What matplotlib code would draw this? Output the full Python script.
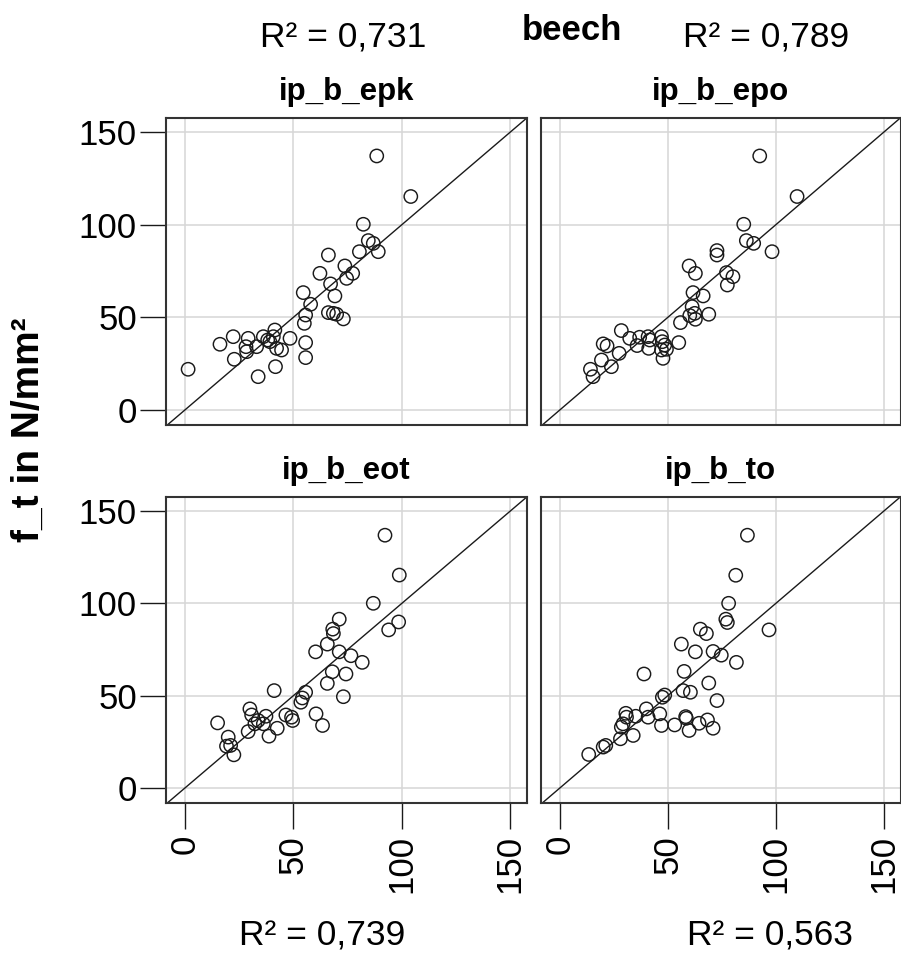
import matplotlib
matplotlib.use('Agg')
import matplotlib.pyplot as plt

plt.rcParams['font.family'] = ['Liberation Sans', 'DejaVu Sans']

# ==========================================
# Datos
# ==========================================
epk_x = [88.5, 104.2, 82.3, 84.6, 86.9, 89.2, 80.5, 66.2, 73.8, 77.4, 74.6, 62.3, 67.2, 69.2,
         54.6, 58.0, 55.7, 55.1, 66.2, 68.5, 70.0, 73.1, 55.7, 55.7, 48.5, 41.5, 40.8, 39.2,
         36.2, 42.3, 44.6, 33.1, 29.2, 22.3, 16.2, 28.5, 22.8, 41.8, 33.8, 1.5, 38.2, 28.2]
epk_y = [137.2, 115.3, 100.3, 91.5, 90.0, 85.5, 85.5, 83.7, 77.8, 73.8, 71.1, 73.8, 68.1, 61.6,
         63.4, 57.1, 51.3, 46.8, 52.6, 52.2, 51.7, 49.2, 36.4, 28.3, 38.7, 43.2, 39.6, 36.9,
         39.6, 33.3, 32.4, 34.2, 38.7, 39.6, 35.5, 31.5, 27.4, 23.4, 18.0, 22.0, 37.8, 34.2]

epo_x = [92.6, 109.9, 85.2, 86.4, 89.8, 98.3, 72.8, 72.8, 59.9, 62.8, 77.2, 80.2, 77.6, 61.7,
         66.4, 61.3, 62.5, 60.2, 62.8, 69.0, 55.9, 28.5, 32.4, 37.0, 40.9, 41.7, 47.1, 47.5,
         49.4, 47.8, 55.1, 35.8, 41.2, 20.1, 21.9, 27.5, 19.3, 23.9, 14.2, 15.4, 47.1, 48.6]
epo_y = [137.2, 115.3, 100.3, 91.5, 90.0, 85.5, 86.1, 83.7, 77.8, 73.8, 74.2, 72.0, 67.5, 63.4,
         61.6, 55.8, 52.2, 51.0, 49.0, 51.7, 47.2, 42.9, 38.7, 39.3, 39.6, 37.8, 39.6, 36.9,
         32.8, 27.9, 36.4, 34.8, 33.3, 35.7, 34.6, 30.6, 27.0, 23.4, 22.0, 18.0, 32.4, 35.1]

eot_x = [92.3, 98.9, 86.9, 98.6, 94.0, 71.2, 68.2, 68.5, 65.7, 60.3, 71.2, 76.6, 81.8, 68.0,
         74.3, 65.7, 73.1, 55.7, 54.2, 53.5, 41.2, 60.5, 63.5, 46.6, 49.2, 49.7, 30.0, 30.8,
         37.4, 33.8, 36.2, 42.6, 38.8, 29.2, 15.1, 20.0, 19.2, 21.1, 22.6, 32.3]
eot_y = [137.0, 115.4, 100.1, 90.0, 85.7, 91.5, 86.1, 83.7, 78.0, 73.8, 73.8, 71.7, 68.1, 63.0,
         61.8, 56.7, 49.5, 51.9, 48.8, 46.5, 52.8, 40.2, 33.9, 39.6, 38.4, 36.6, 42.9, 39.6,
         38.9, 36.6, 34.8, 32.4, 28.1, 30.6, 35.3, 27.6, 22.7, 23.1, 18.0, 34.8]

to_x = [86.9, 81.5, 78.2, 76.9, 77.6, 96.9, 65.1, 67.9, 56.3, 62.8, 71.0, 74.8, 81.8, 39.0,
        57.6, 69.0, 57.1, 60.5, 72.8, 48.6, 47.5, 40.1, 46.3, 40.9, 35.2, 30.6, 30.9, 29.3,
        28.5, 34.0, 28.1, 58.3, 47.1, 53.2, 59.9, 64.5, 68.4, 71.0, 21.3, 20.1, 13.4, 58.6]
to_y = [137.0, 115.3, 100.1, 91.5, 89.7, 85.7, 86.1, 83.7, 78.0, 73.8, 74.0, 72.0, 68.1, 61.8,
        63.2, 56.9, 52.8, 51.9, 47.4, 50.4, 49.2, 42.9, 40.2, 38.4, 38.9, 40.5, 38.4, 34.8,
        33.0, 28.5, 26.7, 38.7, 33.9, 34.2, 31.2, 35.1, 36.9, 32.4, 23.1, 22.2, 18.2, 37.8]

paneles = ['ip_b_epk', 'ip_b_epo', 'ip_b_eot', 'ip_b_to']
datos_x = [epk_x, epo_x, eot_x, to_x]
datos_y = [epk_y, epo_y, eot_y, to_y]
r2_textos = ['R² = 0,731', 'R² = 0,789', 'R² = 0,739', 'R² = 0,563']
ticks = [0, 50, 100, 150]

# ==========================================
# Figura
# ==========================================
fig = plt.figure(figsize=(9.01, 9.61), dpi=100)

W, H = 901.0, 961.0
# (izq, arriba, der, abajo) en pixeles
cajas = [(166, 118, 527, 425), (541, 118, 900.5, 425),
         (166, 497, 527, 803), (541, 497, 900.5, 803)]

for i, (izq, arr, der, aba) in enumerate(cajas):
    ax = fig.add_axes([izq / W, 1 - aba / H, (der - izq) / W, (aba - arr) / H])
    ax.set_xlim(-8.7, 157.8)
    ax.set_ylim(-8.1, 157.7)
    ax.set_xticks(ticks)
    ax.set_yticks(ticks)
    ax.grid(True, color='#d6d6d6', linewidth=1.1)
    ax.set_axisbelow(True)
    for s in ax.spines.values():
        s.set_color('#333333')
        s.set_linewidth(1.5)
    ax.axline((0, 0), (1, 1), color='#1a1a1a', linewidth=1.0, zorder=2)
    ax.scatter(datos_x[i], datos_y[i], s=92, facecolors='none', edgecolors='#1a1a1a',
               linewidths=1.05, zorder=3)

    izquierda = i % 2 == 0
    abajo = i >= 2
    ax.tick_params(axis='y', left=izquierda, labelleft=izquierda, length=19, width=1.0,
                   labelsize=25, color='#1a1a1a', pad=2)
    ax.tick_params(axis='x', bottom=abajo, labelbottom=abajo, length=19, width=1.0,
                   labelsize=25, color='#1a1a1a', pad=4, labelrotation=90)

    fig.text((izq + der) / 2 / W, 1 - (arr - 26) / H, paneles[i], ha='center', va='center',
             fontsize=22.5, fontweight='bold')

fig.text(572 / W, 1 - 30 / H, 'beech', ha='center', va='center', fontsize=25, fontweight='bold')
fig.text(343 / W, 1 - 38 / H, r2_textos[0], ha='center', va='center', fontsize=25.5)
fig.text(766 / W, 1 - 38 / H, r2_textos[1], ha='center', va='center', fontsize=25.5)
fig.text(322 / W, 1 - 936 / H, r2_textos[2], ha='center', va='center', fontsize=25.5)
fig.text(770 / W, 1 - 936 / H, r2_textos[3], ha='center', va='center', fontsize=25.5)
fig.text(29 / W, 1 - 430 / H, 'f_t in N/mm²', ha='center', va='center', rotation=90,
         fontsize=28, fontweight='bold')

plt.savefig('out.png', dpi=100)
